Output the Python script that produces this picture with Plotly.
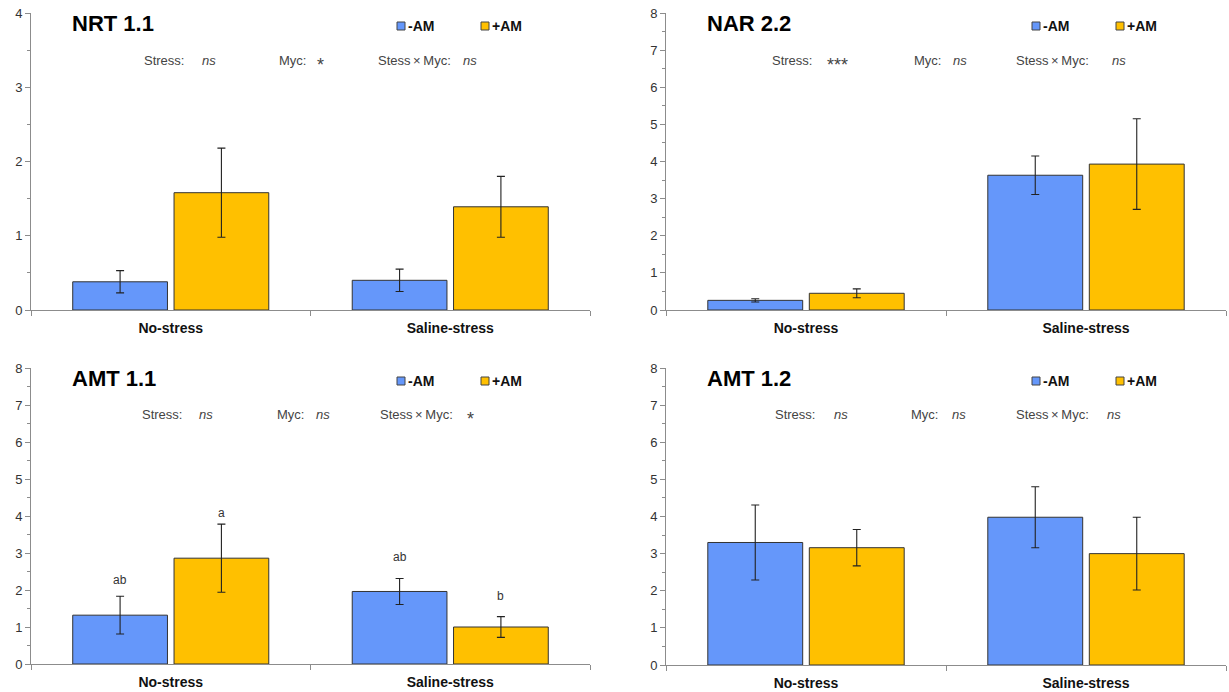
import plotly.graph_objects as go

# ---------------- data ----------------
categories = ["No-stress", "Saline-stress"]
series_names = ["-AM", "+AM"]
panel_titles = ["NRT 1.1", "NAR 2.2", "AMT 1.1", "AMT 1.2"]
y_max = [4, 8, 8, 8]

nrt11_minus = [0.38, 0.40]
nrt11_minus_err = [0.15, 0.15]
nrt11_plus = [1.58, 1.39]
nrt11_plus_err = [0.60, 0.41]

nar22_minus = [0.26, 3.63]
nar22_minus_err = [0.045, 0.52]
nar22_plus = [0.45, 3.93]
nar22_plus_err = [0.12, 1.22]

amt11_minus = [1.32, 1.96]
amt11_minus_err = [0.51, 0.35]
amt11_plus = [2.86, 1.00]
amt11_plus_err = [0.92, 0.28]

amt12_minus = [3.30, 3.98]
amt12_minus_err = [1.01, 0.82]
amt12_plus = [3.16, 3.00]
amt12_plus_err = [0.49, 0.98]

# significance (label, value) per panel
stats_labels = ["Stress:", "Myc:", "Stess\u2009×\u2009Myc:"]
nrt11_stats = ["ns", "*", "ns"]
nar22_stats = ["***", "ns", "ns"]
amt11_stats = ["ns", "ns", "*"]
amt12_stats = ["ns", "ns", "ns"]

# letters of AMT 1.1 (Tukey groups) and their heights
amt11_minus_letters = ["ab", "ab"]
amt11_plus_letters = ["a", "b"]
amt11_minus_letter_y = [2.26, 2.89]
amt11_plus_letter_y = [4.07, 1.84]

# ---------------- styling / layout ----------------
W, H = 1229, 692
BLUE = "#6597FA"
ORANGE = "#FFC000"
EDGE = "#333333"
AXIS = "#8C8C8C"
FONT = "Liberation Sans, Arial, sans-serif"
NARROW = "Liberation Sans Narrow, Liberation Sans, Arial, sans-serif"
BARGAP = 0.275
BARGROUPGAP = 0.065

panels = [
    dict(mv=nrt11_minus, me=nrt11_minus_err, pv=nrt11_plus, pe=nrt11_plus_err, stats=nrt11_stats),
    dict(mv=nar22_minus, me=nar22_minus_err, pv=nar22_plus, pe=nar22_plus_err, stats=nar22_stats),
    dict(mv=amt11_minus, me=amt11_minus_err, pv=amt11_plus, pe=amt11_plus_err, stats=amt11_stats),
    dict(mv=amt12_minus, me=amt12_minus_err, pv=amt12_plus, pe=amt12_plus_err, stats=amt12_stats),
]

# plot-area pixel boxes (left, top, right, bottom)
boxes = [(31, 13, 590, 310), (666, 13, 1226, 310), (31, 368, 590, 664), (666, 368, 1226, 665)]

# text offsets (px relative to plot-area left/top)
stat_offsets = [
    [(111, 169), (246, 284), (345, 430)],
    [(104, 159), (246, 285), (348, 444)],
    [(109, 166), (244, 283), (347, 434)],
    [(107, 166), (243, 284), (348, 439)],
]
stat_dy = [47, 47, 46, 46]


def px(x):
    return x / W


def py(y):
    return 1 - y / H


fig = go.Figure()
annotations = []
shapes = []

for i, p in enumerate(panels):
    n = "" if i == 0 else str(i + 1)
    xa, ya = "x" + n, "y" + n
    for vals, errs, color, name in [(p["mv"], p["me"], BLUE, series_names[0]),
                                    (p["pv"], p["pe"], ORANGE, series_names[1])]:
        fig.add_trace(go.Bar(
            x=categories, y=vals, name=name, xaxis=xa, yaxis=ya, showlegend=False,
            marker=dict(color=color, line=dict(color=EDGE, width=1)),
            error_y=dict(type="data", array=errs, visible=True, color="#222222",
                         thickness=1.1, width=4),
        ))
    l, t, r, b = boxes[i]
    fig.layout["xaxis" + n] = dict(
        domain=[px(l), px(r)], anchor=ya, type="category", automargin=False,
        showline=True, linecolor=AXIS, linewidth=1,
        ticks="outside", tickson="boundaries", ticklen=5, tickcolor=AXIS,
        ticklabelstandoff=5,
        tickfont=dict(family=FONT, size=14, color="#111111", weight="bold"),
        showgrid=False, zeroline=False, fixedrange=True,
    )
    fig.layout["yaxis" + n] = dict(
        domain=[py(b), py(t)], anchor=xa, range=[0, y_max[i]], automargin=False,
        dtick=1, tick0=0, showline=True, linecolor=AXIS, linewidth=1,
        ticks="outside", ticklen=5, tickcolor=AXIS,
        minor=dict(dtick=0.5, ticks="outside", ticklen=3, tickcolor=AXIS, showgrid=False),
        tickfont=dict(family=NARROW, size=13, color="#333333"),
        showgrid=False, zeroline=False, fixedrange=True,
    )

    # panel title
    annotations.append(dict(
        text=panel_titles[i], xref="paper", yref="paper", x=px(l + 39), y=py(t + 10.5),
        xanchor="left", yanchor="middle", showarrow=False,
        font=dict(family=FONT, size=22, color="#000000", weight="bold"),
    ))
    # legend (squares + labels)
    for dx, color, name in [(370, BLUE, series_names[0]), (454, ORANGE, series_names[1])]:
        cx, cy = l + dx, t + 13
        shapes.append(dict(type="rect", xref="paper", yref="paper",
                           x0=px(cx - 4), x1=px(cx + 4), y0=py(cy + 4), y1=py(cy - 4),
                           fillcolor=color, line=dict(color="#444444", width=1)))
        annotations.append(dict(
            text=name, xref="paper", yref="paper", x=px(cx + 5), y=py(cy),
            xanchor="left", yanchor="middle", showarrow=False,
            font=dict(family=FONT, size=14, color="#111111", weight="bold"),
        ))
    # significance line
    for k, lab in enumerate(stats_labels):
        ox, vx = stat_offsets[i][k]
        annotations.append(dict(
            text=lab, xref="paper", yref="paper", x=px(l + ox), y=py(t + stat_dy[i]),
            xanchor="left", yanchor="middle", showarrow=False,
            font=dict(family=FONT, size=13, color="#444444"),
        ))
        val = p["stats"][k]
        if val == "ns":
            annotations.append(dict(
                text="<i>ns</i>", xref="paper", yref="paper", x=px(l + vx), y=py(t + stat_dy[i]),
                xanchor="left", yanchor="middle", showarrow=False,
                font=dict(family=FONT, size=13, color="#444444"),
            ))
        else:
            annotations.append(dict(
                text=val, xref="paper", yref="paper", x=px(l + vx), y=py(t + stat_dy[i] + 5),
                xanchor="left", yanchor="middle", showarrow=False,
                font=dict(family=FONT, size=18, color="#444444"),
            ))

# letters on AMT 1.1
off = (1 - BARGAP) / 4
for j in range(len(categories)):
    for letters, ys, sgn in [(amt11_minus_letters, amt11_minus_letter_y, -1),
                             (amt11_plus_letters, amt11_plus_letter_y, 1)]:
        annotations.append(dict(
            text=letters[j], xref="x3", yref="y3", x=j + sgn * off, y=ys[j],
            xanchor="center", yanchor="middle", showarrow=False,
            font=dict(family=NARROW, size=12, color="#333333"),
        ))

fig.update_layout(
    width=W, height=H, margin=dict(l=0, r=0, t=0, b=0),
    paper_bgcolor="white", plot_bgcolor="white",
    barmode="group", bargap=BARGAP, bargroupgap=BARGROUPGAP,
    annotations=annotations, shapes=shapes, showlegend=False,
)

fig.write_html("out.html")
